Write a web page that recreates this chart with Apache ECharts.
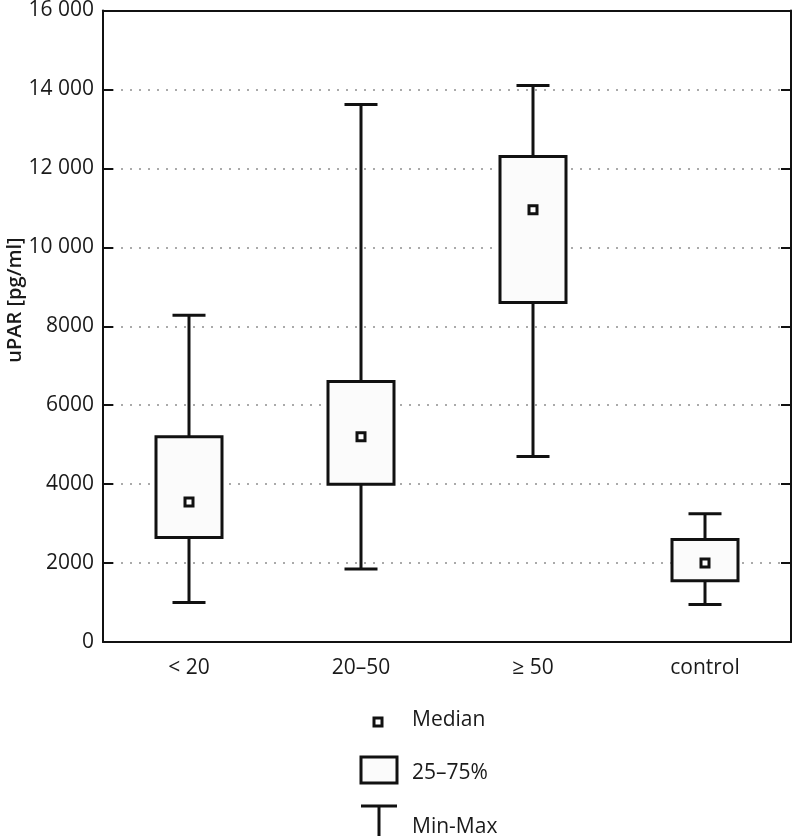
<!DOCTYPE html>
<html>
<head>
<meta charset="utf-8">
<script src="https://cdn.jsdelivr.net/npm/echarts@6/dist/echarts.min.js"></script>
<style>
html,body{margin:0;padding:0;background:#fff;}
#chart{width:792px;height:836px;}
</style>
</head>
<body>
<div id="chart"></div>
<script>
// ---- data ----
var categories = ['< 20', '20\u201350', '\u2265 50', 'control'];
var minValues    = [1000, 1850, 4700, 950];
var q1Values     = [2650, 4000, 8600, 1550];
var medianValues = [3550, 5200, 10950, 2000];
var q3Values     = [5200, 6600, 12300, 2600];
var maxValues    = [8280, 13620, 14100, 3250];
var yTicks = [0, 2000, 4000, 6000, 8000, 10000, 12000, 14000, 16000];
var yTickLabels = ['0', '2000', '4000', '6000', '8000', '10 000', '12 000', '14 000', '16 000'];
var yAxisTitle = 'uPAR [pg/ml]';
var legendLabels = ['Median', '25\u201375%', 'Min-Max'];

var FONT = 'Open Sans';
var TXT = '#1a1a1a';
var FS = 21;

var seriesData = categories.map(function (c, i) {
  return [i, minValues[i], q1Values[i], medianValues[i], q3Values[i], maxValues[i]];
});

function renderItem(params, api) {
  var x = api.value(0);
  var pMin = api.coord([x, api.value(1)]);
  var pQ1 = api.coord([x, api.value(2)]);
  var pMed = api.coord([x, api.value(3)]);
  var pQ3 = api.coord([x, api.value(4)]);
  var pMax = api.coord([x, api.value(5)]);
  var cx = pMed[0];
  var boxW = 66, capW = 33, medS = 8;
  var ls = {stroke: '#111', lineWidth: 3, fill: null};
  return {
    type: 'group',
    children: [
      {type: 'line', shape: {x1: cx, y1: pQ3[1], x2: cx, y2: pMax[1]}, style: ls},
      {type: 'line', shape: {x1: cx, y1: pQ1[1], x2: cx, y2: pMin[1]}, style: ls},
      {type: 'line', shape: {x1: cx - capW / 2, y1: pMax[1], x2: cx + capW / 2, y2: pMax[1]}, style: ls},
      {type: 'line', shape: {x1: cx - capW / 2, y1: pMin[1], x2: cx + capW / 2, y2: pMin[1]}, style: ls},
      {type: 'rect', shape: {x: cx - boxW / 2, y: pQ3[1], width: boxW, height: pQ1[1] - pQ3[1]},
        style: {stroke: '#111', lineWidth: 3, fill: '#fbfbfb'}},
      {type: 'rect', shape: {x: cx - medS / 2, y: pMed[1] - medS / 2, width: medS, height: medS},
        style: {stroke: '#111', lineWidth: 3, fill: '#fff'}}
    ]
  };
}

var chart = echarts.init(document.getElementById('chart'), null, {renderer: 'canvas'});

var legendX = 361, legendTextX = 412;
var option = {
  backgroundColor: '#fff',
  animation: false,
  grid: {left: 103, right: 1, top: 7, bottom: 194, containLabel: false},
  xAxis: [{
    type: 'category',
    data: categories,
    position: 'bottom',
    axisLine: {onZero: false, lineStyle: {color: '#111', width: 2}},
    axisTick: {inside: true, alignWithLabel: true, length: 10, lineStyle: {color: '#111', width: 3}},
    axisLabel: {color: TXT, fontFamily: FONT, fontSize: FS, margin: 16},
    splitLine: {show: false},
    z: 5
  }, {
    type: 'category',
    data: categories,
    position: 'top',
    axisLine: {onZero: false, lineStyle: {color: '#111', width: 2}},
    axisTick: {inside: true, alignWithLabel: true, length: 10, lineStyle: {color: '#111', width: 2}},
    axisLabel: {show: false},
    splitLine: {show: false},
    z: 5
  }],
  yAxis: [{
    type: 'value',
    min: 0, max: 16000, interval: 2000,
    position: 'left',
    axisLine: {show: true, onZero: false, lineStyle: {color: '#111', width: 2}},
    axisTick: {show: true, inside: true, length: 10, lineStyle: {color: '#111', width: 2}},
    axisLabel: {color: TXT, fontFamily: FONT, fontSize: FS, margin: 9,
      formatter: function (v) { var k = yTicks.indexOf(v); return k >= 0 ? yTickLabels[k] : ''; }},
    splitLine: {show: true, lineStyle: {color: '#aaa', width: 2, type: [2, 7]}}
  }, {
    type: 'value',
    min: 0, max: 16000, interval: 2000,
    position: 'right',
    axisLine: {show: true, onZero: false, lineStyle: {color: '#111', width: 2}},
    axisTick: {show: true, inside: true, length: 10, lineStyle: {color: '#111', width: 2}},
    axisLabel: {show: false},
    splitLine: {show: false},
    z: 5
  }],
  series: [{
    type: 'custom',
    xAxisIndex: 0,
    yAxisIndex: 0,
    renderItem: renderItem,
    encode: {x: 0, y: [1, 2, 3, 4, 5]},
    data: seriesData,
    z: 10
  }],
  graphic: [
    {type: 'text', x: 15, y: 300, rotation: Math.PI / 2, style: {text: yAxisTitle, fill: TXT,
      font: '600 20px "' + FONT + '"', textAlign: 'center', textVerticalAlign: 'middle'}},
    // legend: median
    {type: 'rect', shape: {x: 374, y: 718, width: 8, height: 8}, style: {stroke: '#111', lineWidth: 3, fill: '#fff'}},
    {type: 'text', x: legendTextX, y: 720, style: {text: legendLabels[0], fill: TXT, font: FS + 'px "' + FONT + '"', textVerticalAlign: 'middle'}},
    // legend: box
    {type: 'rect', shape: {x: legendX, y: 757, width: 36, height: 26}, style: {stroke: '#111', lineWidth: 3, fill: '#fbfbfb'}},
    {type: 'text', x: legendTextX, y: 773, style: {text: legendLabels[1], fill: TXT, font: FS + 'px "' + FONT + '"', textVerticalAlign: 'middle'}},
    // legend: min-max
    {type: 'line', shape: {x1: legendX, y1: 806, x2: legendX + 36, y2: 806}, style: {stroke: '#111', lineWidth: 3}},
    {type: 'line', shape: {x1: legendX + 18, y1: 806, x2: legendX + 18, y2: 836}, style: {stroke: '#111', lineWidth: 3}},
    {type: 'text', x: legendTextX, y: 827, style: {text: legendLabels[2], fill: TXT, font: FS + 'px "' + FONT + '"', textVerticalAlign: 'middle'}}
  ]
};
chart.setOption(option);
</script>
</body>
</html>
